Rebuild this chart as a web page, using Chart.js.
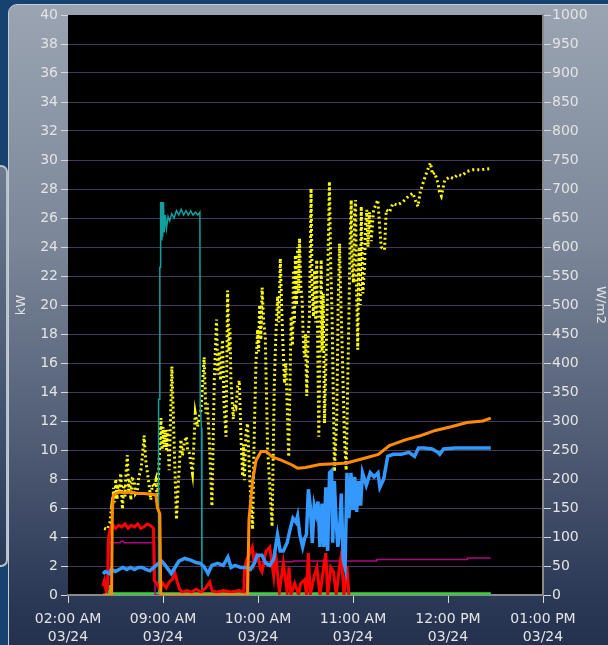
<!DOCTYPE html>
<html>
<head>
<meta charset="utf-8">
<script src="https://cdn.jsdelivr.net/npm/chart.js@4.4.1/dist/chart.umd.min.js"></script>
<style>
html, body { margin: 0; padding: 0; width: 608px; height: 645px; overflow: hidden; background: #17416f; }
#side { position: absolute; left: -12px; top: 165px; width: 16px; height: 398px; border: 2px solid #b8c2cc; border-radius: 7px; background: linear-gradient(#6d7a8e, #2a3a58); }
#panel { position: absolute; left: 8px; top: 4px; width: 640px; height: 680px; border: 1px solid #c4ccd6; border-radius: 9px;
  background: linear-gradient(to bottom, #9aa4b2 0%, #7b8699 35%, #4f5b73 65%, #2a3755 88%, #1f2b48 100%); }
#wrap { position: absolute; left: 0; top: 0; width: 608px; height: 645px; }
</style>
</head>
<body>
<div id="side"></div>
<div id="panel"></div>
<div id="wrap"><canvas id="trend"></canvas></div>
<script>
// x values are minutes after 08:00
var xTickTimes = ["02:00 AM", "09:00 AM", "10:00 AM", "11:00 AM", "12:00 PM", "01:00 PM"];
var xTickDate = "03/24";

// irradiance, W/m2 (right axis)
var irrT = [22.8, 24.9, 26.5, 27.5, 28.0, 28.8, 29.5, 30.2, 31.0, 31.5,
  32.3, 33.3, 34.4, 35.2, 36.0, 36.5, 37.5, 38.3, 39.0, 39.7,
  40.6, 41.8, 42.6, 43.8, 44.8, 46.0, 47.0, 48.1, 49.0, 50.2,
  51.2, 52.3, 53.2, 54.4, 55.5, 56.5, 58.7, 59.4, 60.0, 60.7,
  61.5, 62.2, 62.8, 63.9, 65.6, 67.1, 68.5, 69.8, 71.3, 72.3,
  73.4, 74.8, 75.6, 76.6, 78.6, 80.4, 81.8, 82.8, 84.0, 86.0,
  87.1, 88.0, 89.2, 90.9, 92.4, 93.8, 94.6, 95.5, 96.3, 97.6,
  98.5, 99.8, 100.8, 101.7, 102.3, 102.9, 104.4, 105.2, 106.1, 107.2,
  108.2, 109.3, 110.3, 110.9, 111.4, 112.4, 113.4, 114.5, 115.6, 116.6,
  117.7, 118.7, 119.8, 120.4, 121.0, 121.8, 122.6, 123.6, 124.6, 126.1,
  128.9, 130.3, 131.3, 132.4, 133.2, 134.1, 134.9, 135.6, 136.7, 137.6,
  139.4, 140.9, 141.8, 142.4, 143.0, 143.6, 144.3, 145.0, 145.6, 146.2,
  147.1, 147.9, 148.6, 149.3, 150.0, 150.8, 151.7, 152.5, 153.5, 154.2,
  155.0, 155.7, 156.4, 157.1, 158.4, 159.9, 160.5, 161.2, 162.0, 163.7,
  165.1, 166.0, 166.8, 168.3, 169.8, 170.6, 171.5, 172.4, 173.2, 174.6,
  175.7, 177.4, 178.1, 178.9, 179.5, 180.3, 181.0, 181.6, 182.3, 183.0,
  183.6, 184.0, 184.6, 185.2, 186.2, 187.3, 188.0, 188.7, 189.5, 190.4,
  191.5, 193.0, 194.7, 195.7, 196.7, 197.8, 199.9, 201.0, 203.0, 205.2,
  208.0, 211.5, 214.0, 217.8, 219.5, 221.0, 222.5, 224.2, 226.7, 228.9,
  230.2, 231.6, 233.7, 234.6, 235.8, 237.9, 241.1, 243.5, 246.3, 249.0,
  251.6, 255.8, 260.0, 267.0];
var irrV = [115, 113, 125, 150, 141, 185, 160, 200, 165, 190,
  175, 210, 148, 190, 170, 205, 241, 180, 200, 164,
  200, 198, 175, 180, 205, 215, 240, 275, 235, 210,
  190, 164, 190, 186, 198, 164, 305, 250, 290, 255,
  285, 250, 285, 215, 394, 255, 130, 198, 268, 240,
  263, 273, 250, 245, 210, 313, 290, 305, 319, 410,
  313, 330, 268, 153, 370, 475, 380, 420, 370, 440,
  330, 273, 525, 420, 460, 370, 303, 330, 325, 360,
  370, 268, 205, 260, 198, 280, 296, 220, 153, 113,
  285, 400, 458, 420, 500, 440, 530, 470, 445, 250,
  118, 365, 450, 515, 470, 580, 500, 445, 365, 400,
  238, 480, 430, 560, 470, 586, 500, 600, 520, 615,
  530, 508, 440, 410, 450, 343, 450, 480, 701, 530,
  480, 560, 470, 578, 273, 578, 420, 520, 296, 498,
  713, 560, 480, 213, 308, 500, 606, 500, 423, 268,
  215, 480, 600, 681, 560, 538, 660, 681, 520, 423,
  560, 600, 500, 670, 520, 565, 640, 664, 600, 660,
  610, 664, 675, 681, 640, 600, 595, 664, 660, 675,
  672, 678, 685, 693, 680, 670, 695, 710, 730, 745,
  725, 728, 710, 695, 688, 715, 721, 718, 725, 723,
  730, 733, 733, 735];

var orangeT = [22, 27.5, 28.0, 28.6, 30, 33, 36, 40, 44, 48, 52, 55.5, 56.5, 58.0, 58.6, 113.4, 114.3, 116.6, 118.8, 121.9,
  125.1, 129.3, 134.6, 140.9, 145, 150, 159, 169, 176, 186, 196, 203, 213, 223, 232, 242, 252, 262, 267];
var orangeV = [0, 0, 5.8, 6.9, 7.0, 7.1, 7.05, 7.1, 7.0, 7.0, 6.95, 6.9, 6.0, 5.6, 0, 0, 5.2, 7.9, 9.3, 9.9,
  9.9, 9.5, 9.3, 9.0, 8.75, 8.8, 9.0, 9.05, 9.1, 9.4, 9.7, 10.3, 10.7, 11.0, 11.35, 11.6, 11.9, 12.0, 12.2];

var blueT = [22.0, 23.7, 26.1, 27.3, 29.8, 32.2, 34.7, 37.1, 39.5, 42.0, 44.4, 46.9, 49.3, 51.7, 54.2, 56.6, 59.1, 61.5, 65.2, 67.6,
  70.0, 73.7, 77.4, 81.0, 83.5, 85.9, 88.4, 90.8, 94.5, 98.1, 101.0, 103.0, 105.4, 109.1, 112.8, 115.2, 117.6, 119.6, 122.5, 125.0,
  127.4, 129.9, 132.3, 134.0, 136.0, 138.4, 140.1, 142.1, 144.0, 145.0, 146.4, 148.2, 149.4, 150.6, 151.8, 153.0, 154.3, 155.5, 156.7, 157.9,
  159.1, 160.4, 161.6, 162.8, 164.0, 165.2, 166.5, 167.2, 168.2, 169.4, 170.4, 171.4, 172.6, 173.8, 175.0, 176.2, 177.4, 178.7, 179.9, 181.1,
  182.3, 183.5, 184.8, 186.0, 188.4, 190.9, 193.3, 195.8, 197.0, 199.4, 201.9, 205.5, 210.4, 215.3, 218.9, 221.4, 225.0, 229.9, 233.6, 234.8,
  237.2, 244.6, 254.3, 267.0];
var blueV = [1.48, 1.62, 1.48, 1.76, 1.62, 1.76, 1.9, 1.76, 1.9, 1.76, 1.9, 1.9, 1.76, 1.67, 1.9, 2.13, 2.33, 2.04, 1.48, 1.9,
  2.33, 2.52, 2.41, 2.24, 2.18, 1.96, 1.48, 2.04, 2.18, 2.04, 2.61, 1.9, 2.04, 1.9, 1.9, 1.76, 2.18, 2.75, 2.75, 2.18,
  2.04, 2.47, 4.17, 3.04, 3.04, 3.6, 4.45, 5.3, 5.02, 5.45, 4.17, 3.32, 3.89, 4.17, 7.29, 6.16, 3.6, 6.16, 5.59, 6.44,
  3.32, 6.3, 3.32, 7.43, 3.04, 8.43, 8.57, 3.6, 7.86, 5.02, 3.32, 4.17, 7.0, 2.47, 1.9, 8.43, 5.3, 8.43, 5.87, 8.14,
  5.73, 7.86, 6.16, 8.43, 7.57, 8.43, 8.14, 8.43, 7.43, 8.0, 9.56, 9.7, 9.7, 9.84, 9.56, 10.13, 10.13, 10.07, 9.84, 9.7,
  10.07, 10.13, 10.13, 10.13];

var redT = [22.0, 23.0, 24.0, 25.0, 25.6, 26.5, 28.0, 30.0, 32.0, 34.0, 36.0, 38.0, 40.0, 42.0, 44.0, 46.0, 48.0, 50.0, 52.0, 54.0,
  54.5, 56.0, 58.0, 60.0, 62.0, 64.0, 66.0, 67.6, 69.0, 70.5, 72.0, 75.0, 78.0, 81.0, 84.0, 87.0, 89.5, 91.0, 94.0, 98.0,
  103.0, 108.0, 111.0, 111.5, 113.0, 114.5, 116.4, 117.6, 119.0, 120.1, 121.5, 122.5, 125.0, 127.4, 129.9, 131.1, 133.5, 136.0, 138.4, 139.6,
  140.8, 143.2, 145.7, 146.9, 149.4, 150.6, 151.8, 153.0, 155.5, 157.2, 159.1, 161.1, 162.8, 164.0, 166.0, 167.7, 169.4, 171.4, 172.6, 174.3,
  176.2, 177.4];
var redV = [0.6, 1.0, 0.3, 0.4, 4.0, 4.5, 4.9, 4.6, 4.8, 4.7, 4.9, 4.6, 4.8, 4.7, 4.9, 4.6, 4.7, 4.9, 4.8, 4.6,
  1.0, 0.8, 0.4, 0.8, 0.5, 0.9, 1.1, 1.5, 0.9, 0.4, 0.2, 0.3, 0.2, 0.4, 0.2, 0.5, 0.9, 0.3, 0.2, 0.3,
  0.2, 0.3, 0.2, 1.9, 2.5, 2.8, 3.3, 2.2, 2.8, 2.7, 1.8, 1.6, 3.0, 3.3, 1.3, 2.9, 0.2, 2.2, 0.2, 1.9,
  0, 0.8, 0, 0.8, 1.05, 0, 2.9, 0, 1.3, 1.9, 0, 1.6, 2.9, 0, 1.9, 1.6, 0, 1.9, 2.75, 0,
  2.0, 0];

var tealT = [22, 57.0, 57.2, 57.8, 58.0, 58.3, 58.5, 58.9, 59.3, 59.8, 60.3, 60.8, 61.5, 62.2, 63.2, 64.2, 65.5, 67, 68.5, 70,
  71.5, 73, 74.5, 76, 77.5, 79, 80.5, 82, 83.3, 83.5, 84.3, 84.6, 267];
var tealV = [0, 0, 13.5, 13.5, 22.6, 22.6, 27.1, 24.5, 27.1, 24.7, 27.1, 25.0, 26.2, 25.3, 26.1, 25.8, 26.3, 26.0, 26.5, 26.2,
  26.6, 26.2, 26.5, 26.2, 26.5, 26.2, 26.4, 26.2, 26.4, 13.0, 11.5, 0, 0];

var magentaT = [22, 24.7, 24.9, 33, 33.5, 35, 35.5, 54.7, 55, 112.6, 112.9, 142, 142.3, 194.8, 195, 252, 252.3, 267];
var magentaV = [0, 0, 3.6, 3.6, 3.7, 3.7, 3.6, 3.6, 0, 0, 2.3, 2.3, 2.35, 2.35, 2.45, 2.45, 2.55, 2.55];

var greenT = [24.0, 25.5, 25.8, 27.0, 27.3, 267];
var greenV = [0.1, 0.1, 0.6, 0.6, 0.1, 0.1];

function pts(t, v) {
  return t.map(function (m, i) { return { x: m, y: v[i] }; });
}

Chart.defaults.font.family = '"DejaVu Sans", sans-serif';
Chart.defaults.font.size = 14;
Chart.defaults.color = "#e4e4e4";

var plotBg = {
  id: "plotBg",
  beforeDraw: function (chart) {
    var a = chart.chartArea, ctx = chart.ctx;
    ctx.save();
    ctx.fillStyle = "#000";
    ctx.fillRect(a.left, a.top, a.right - a.left, a.bottom - a.top);
    ctx.restore();
  }
};

function line(label, data, color, width, axis, extra) {
  var ds = {
    label: label, data: data, borderColor: color, borderWidth: width, yAxisID: axis,
    pointRadius: 0, tension: 0, fill: false
  };
  for (var k in extra) ds[k] = extra[k];
  return ds;
}

new Chart(document.getElementById("trend"), {
  type: "line",
  data: {
    datasets: [
      line("Orange", pts(orangeT, orangeV), "#ff8c00", 3, "y"),
      line("Blue", pts(blueT, blueV), "#3399ff", 3.5, "y"),
      line("Red", pts(redT, redV), "#ff0000", 3, "y"),
      line("Magenta", pts(magentaT, magentaV), "#b0087e", 1.5, "y"),
      line("Green", pts(greenT, greenV), "#3cd23c", 2.5, "y"),
      line("Teal", pts(tealT, tealV), "#10a0a0", 1.5, "y"),
      line("Irradiance", pts(irrT, irrV), "#ffff00", 3, "y1", { borderDash: [2, 3], borderCapStyle: "butt" })
    ]
  },
  options: {
    responsive: true,
    maintainAspectRatio: false,
    animation: false,
    layout: { padding: { top: 15, left: 0, right: 0, bottom: 0 } },
    plugins: {
      legend: { display: false },
      tooltip: { enabled: false }
    },
    scales: {
      x: {
        type: "linear",
        min: 0,
        max: 300,
        grid: { drawOnChartArea: false, drawTicks: true, tickLength: 8, tickColor: "#d8d8d8" },
        border: { color: "#8a8a8a", width: 2 },
        ticks: {
          stepSize: 60,
          autoSkip: false,
          maxRotation: 0,
          padding: 7,
          font: { size: 14, lineHeight: 1.3 },
          callback: function (v) { return [xTickTimes[Math.round(v / 60)], xTickDate]; }
        },
        afterFit: function (s) { s.height = 50; }
      },
      y: {
        position: "left",
        min: 0,
        max: 40,
        grid: {
          color: function (c) { return (c.tick && (c.tick.value === 0 || c.tick.value === 40)) ? "rgba(0,0,0,0)" : "#46395a"; },
          lineWidth: 1,
          tickColor: "#d8d8d8",
          tickLength: 7
        },
        border: { display: false },
        ticks: { stepSize: 2, padding: 3, callback: function (v) { return String(v); } },
        title: { display: true, text: "kW", font: { size: 13 }, padding: { top: 14, bottom: 0 } },
        afterFit: function (s) { s.width = 68; }
      },
      y1: {
        position: "right",
        min: 0,
        max: 1000,
        grid: { drawOnChartArea: false, tickColor: "#d8d8d8", tickLength: 8 },
        border: { color: "#8a8a8a", width: 2 },
        ticks: { stepSize: 50, padding: 1, callback: function (v) { return String(v); } },
        title: { display: true, text: "W/m2", font: { size: 13 }, padding: { top: 0, bottom: 0 } },
        afterFit: function (s) { s.width = 65; }
      }
    }
  },
  plugins: [plotBg]
});
</script>
</body>
</html>
